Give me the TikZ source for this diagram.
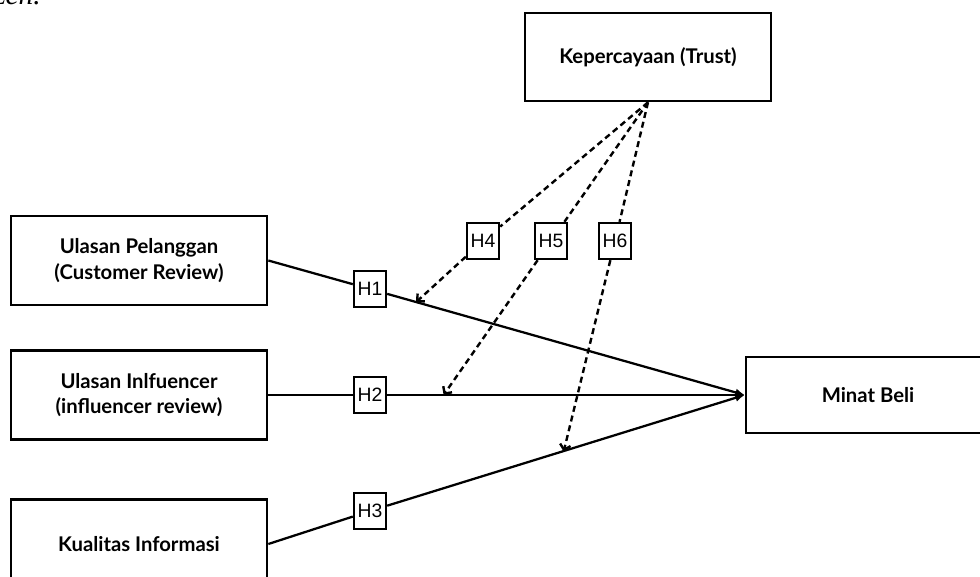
\documentclass[tikz,border=0pt]{standalone}
\usepackage{fontspec}
\setmainfont{Liberation Serif}
\newfontfamily\boxfont{Lato}
\newfontfamily\hfont{Liberation Sans}
\usetikzlibrary{arrows.meta}

\begin{document}
\begin{tikzpicture}[x=0.75pt, y=-0.75pt,
    var/.style={draw, line width=2pt, minimum width=192pt, minimum height=66.75pt,
      align=center, font=\boxfont\bfseries\fontsize{15.2}{19}\selectfont},
    hyp/.style={draw, fill=white, line width=1.3pt, minimum width=24.5pt,
      minimum height=27.5pt, inner sep=0pt, font=\hfont\fontsize{14.5}{15}\selectfont},
    link/.style={line width=1.7pt, -{Latex[length=7pt, width=6pt]}},
    moder/.style={line width=1.8pt, dash pattern=on 4.5pt off 3pt}]
    \useasboundingbox (0,0) rectangle (980,577);
    \clip (0,0) rectangle (980,577);

    % Potongan judul
    \node[anchor=base west, inner sep=0pt, font=\itshape\fontsize{22}{22}\selectfont] (cap) at (-6,5) {zen.};

    % Variabel
    \node[var, minimum width=184.5pt, minimum height=66pt] (trust) at (648,57) {Kepercayaan (Trust)};
    \node[var] (pel) at (139,260.5) {Ulasan Pelanggan\\(Customer Review)};
    \node[var] (inf) at (139,395) {Ulasan Inlfuencer\\(influencer review)};
    \node[var] (kual) at (139,544) {Kualitas Informasi};
    \node[var, minimum width=183pt, minimum height=57pt] (minat) at (868,395) {Minat Beli};

    % Hipotesis
    \node[hyp] (h1) at (370,289) {H1};
    \node[hyp] (h2) at (370,395) {H2};
    \node[hyp] (h3) at (370,511) {H3};
    \node[hyp] (h4) at (483,241) {H4};
    \node[hyp] (h5) at (551,241) {H5};
    \node[hyp] (h6) at (615,241) {H6};

    % Pengaruh langsung
    \draw[line width=1.7pt] (pel.east) -- (h1);
    \draw[link] (h1) -- (minat.west);
    \draw[line width=1.7pt] (inf.east) -- (h2);
    \draw[link] (h2) -- (minat.west);
    \draw[line width=1.7pt] (kual.east) -- (h3);
    \draw[link] (h3) -- (minat.west);

    % Titik moderasi
    \path (pel.east) -- (minat.west) coordinate[pos=0.31] (t4);
    \path (inf.east) -- (minat.west) coordinate[pos=0.368] (t5);
    \path (kual.east) -- (minat.west) coordinate[pos=0.62] (t6);

    % Moderasi Trust
    \draw[moder] (trust.south) -- (h4);
    \draw[moder, -{Straight Barb[length=4pt]}] (h4) -- (t4);
    \draw[moder] (trust.south) -- (h5);
    \draw[moder, -{Straight Barb[length=4pt]}] (h5) -- (t5);
    \draw[moder] (trust.south) -- (h6);
    \draw[moder, -{Straight Barb[length=4pt]}] (h6) -- (t6);
\end{tikzpicture}
\end{document}
